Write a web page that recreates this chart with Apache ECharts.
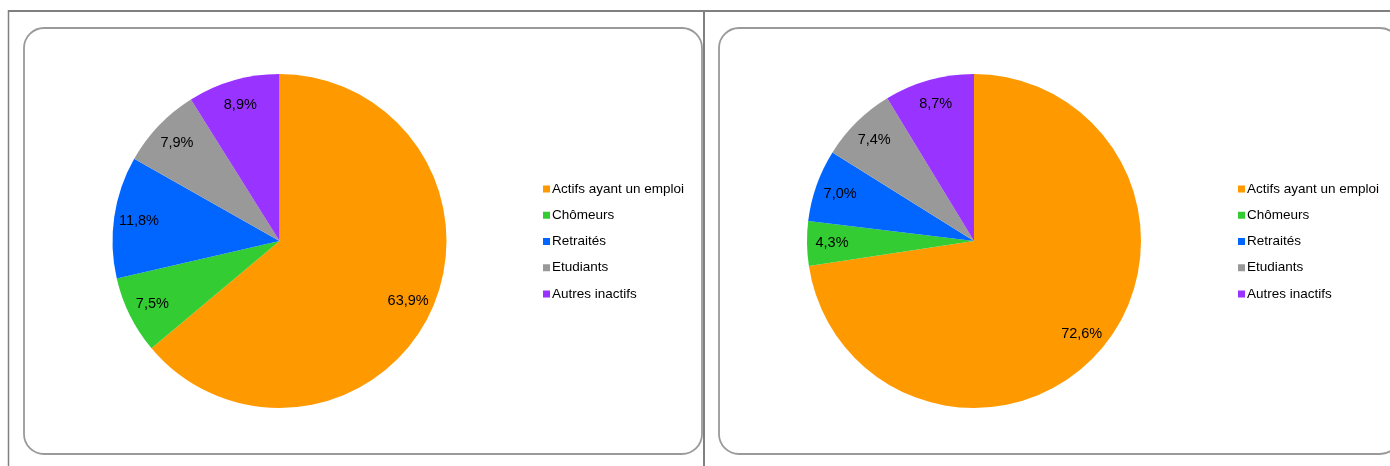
<!DOCTYPE html>
<html>
<head>
<meta charset="utf-8">
<script src="https://cdn.jsdelivr.net/npm/echarts@6/dist/echarts.min.js"></script>
<style>
  html, body { margin: 0; padding: 0; background: #ffffff; }
  #chart { width: 1390px; height: 466px; }
</style>
</head>
<body>
<div id="chart"></div>
<script>
// Population categories and their shares (%) for the two groups
const categories = ['Actifs ayant un emploi', 'Chômeurs', 'Retraités', 'Etudiants', 'Autres inactifs'];
const sharesLeft = [63.9, 7.5, 11.8, 7.9, 8.9];
const sharesRight = [72.6, 4.3, 7.0, 7.4, 8.7];
const sliceColors = ['#FF9900', '#33CC33', '#0066FF', '#999999', '#9933FF'];

const FONT = '"Liberation Sans", Arial, Helvetica, sans-serif';

function fmtPct(v) {
  return v.toFixed(1).replace('.', ',') + '%';
}

function pieData(values, transparent) {
  return categories.map((name, i) => ({
    name: name,
    value: values[i],
    itemStyle: { color: transparent ? 'rgba(0,0,0,0)' : sliceColors[i] }
  }));
}

function piePair(values, cx) {
  const base = {
    type: 'pie',
    center: [cx, 241],
    startAngle: 90,
    clockwise: true,
    animation: false,
    avoidLabelOverlap: false,
    labelLine: { show: false },
    emphasis: { disabled: true }
  };
  return [
    Object.assign({}, base, {
      radius: [0, 167],
      data: pieData(values, false),
      itemStyle: { borderWidth: 0 },
      label: { show: false },
      z: 2
    }),
    // Invisible ring used only to place the percentage labels near the rim
    Object.assign({}, base, {
      radius: [0, 278],
      data: pieData(values, true),
      silent: true,
      itemStyle: { borderWidth: 0 },
      label: {
        show: true,
        position: 'inside',
        color: '#000000',
        fontFamily: FONT,
        fontSize: 14.5,
        formatter: p => fmtPct(p.value)
      },
      z: 3
    })
  ];
}

function legendAt(left) {
  return {
    orient: 'vertical',
    left: left,
    top: 181,
    padding: 0,
    icon: 'rect',
    itemWidth: 7,
    itemHeight: 7,
    itemGap: 10.25,
    selectedMode: false,
    data: categories,
    textStyle: {
      fontFamily: FONT,
      fontSize: 13.5,
      lineHeight: 16,
      color: '#000000',
      padding: [0, 0, 0, -3]
    }
  };
}

const chart = echarts.init(document.getElementById('chart'), null, { renderer: 'canvas' });

chart.setOption({
  backgroundColor: '#ffffff',
  animation: false,
  legend: [legendAt(543), legendAt(1238)],
  graphic: [
    // cell grid lines
    { type: 'line', shape: { x1: 8, y1: 11, x2: 1390, y2: 11 }, style: { stroke: '#808080', lineWidth: 2 }, z: 1 },
    { type: 'line', shape: { x1: 8.5, y1: 10, x2: 8.5, y2: 466 }, style: { stroke: '#808080', lineWidth: 1.5 }, z: 1 },
    { type: 'line', shape: { x1: 704, y1: 10, x2: 704, y2: 466 }, style: { stroke: '#808080', lineWidth: 2 }, z: 1 },
    // rounded chart frames
    { type: 'rect', shape: { x: 24, y: 28, width: 678, height: 426, r: 20 }, style: { fill: '#ffffff', stroke: '#9a9a9a', lineWidth: 1.8 }, z: 0 },
    { type: 'rect', shape: { x: 719, y: 28, width: 681, height: 426, r: 20 }, style: { fill: '#ffffff', stroke: '#9a9a9a', lineWidth: 1.8 }, z: 0 }
  ],
  series: [].concat(piePair(sharesLeft, 279.5), piePair(sharesRight, 974))
});
</script>
</body>
</html>
